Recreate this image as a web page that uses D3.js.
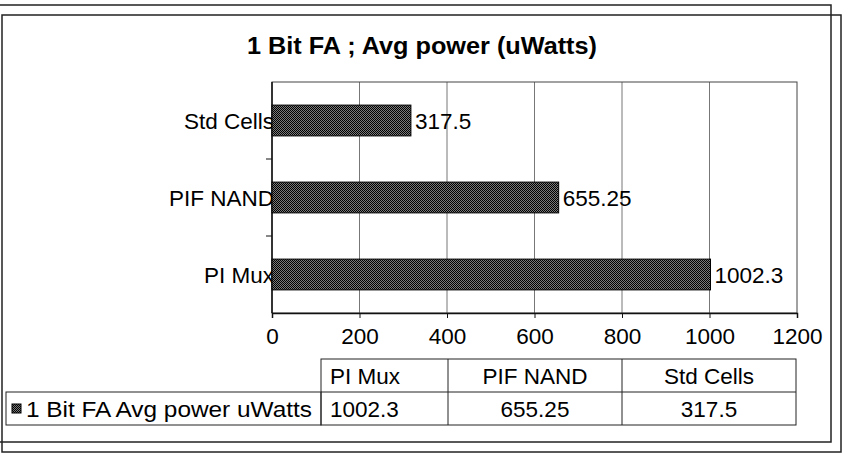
<!DOCTYPE html>
<html>
<head>
<meta charset="utf-8">
<script src="https://cdn.jsdelivr.net/npm/d3@7"></script>
<style>
  body { margin: 0; background: #fff; }
  text { font-family: "Liberation Sans", Arial, sans-serif; fill: #000; }
</style>
</head>
<body>
<div class="chart"></div>
<script>
// 1 bit FA, average power
var categories = ['PI Mux', 'PIF NAND', 'Std Cells'];
var values = [1002.3, 655.25, 317.5];
var valueLabels = ['1002.3', '655.25', '317.5'];
var xTicks = [0, 200, 400, 600, 800, 1000, 1200];
var seriesName = '1 Bit FA Avg power uWatts';
var title = '1 Bit FA ; Avg power (uWatts)';

var width = 842;
var height = 460;
var plot = {left: 272, right: 797, top: 82, bottom: 313};
var fs = '22.5px';

var data = categories.map((c, i) => ({name: c, value: values[i], label: valueLabels[i]}));

var svg = d3.select('.chart').append('svg')
  .attr('width', width)
  .attr('height', height);

// dithered fill like the old excel print
var defs = svg.append('defs');
var pat = defs.append('pattern')
  .attr('id', 'dots')
  .attr('patternUnits', 'userSpaceOnUse')
  .attr('width', 2).attr('height', 2);
pat.append('rect').attr('width', 2).attr('height', 2).attr('fill', '#7a7a7a');
pat.append('rect').attr('width', 1).attr('height', 1).attr('fill', '#000');
pat.append('rect').attr('x', 1).attr('y', 1).attr('width', 1).attr('height', 1).attr('fill', '#000');

// the two frames
svg.append('rect')
  .attr('x', -1).attr('y', 5).attr('width', 832).attr('height', 437)
  .attr('fill', 'none').attr('stroke', '#222').attr('stroke-width', 1.5);
svg.append('rect')
  .attr('x', 2).attr('y', 15).attr('width', 839).attr('height', 437)
  .attr('fill', 'none').attr('stroke', '#222').attr('stroke-width', 1.5);

svg.append('text')
  .attr('x', 422).attr('y', 54)
  .attr('text-anchor', 'middle')
  .attr('textLength', 350)
  .attr('lengthAdjust', 'spacingAndGlyphs')
  .style('font-size', '23px')
  .style('font-weight', 'bold')
  .text(title);

var x = d3.scaleLinear().domain([0, 1200]).range([plot.left, plot.right]);
var y = d3.scaleBand()
  .domain(categories.slice().reverse())
  .range([plot.top, plot.bottom])
  .paddingInner(0.6)
  .paddingOuter(0.3);

// gridlines
svg.append('g')
  .selectAll('line')
  .data(xTicks.slice(1, -1))
  .enter().append('line')
  .attr('x1', d => x(d)).attr('x2', d => x(d))
  .attr('y1', plot.top).attr('y2', plot.bottom)
  .attr('stroke', '#777').attr('stroke-width', 1);

// plot border
svg.append('rect')
  .attr('x', plot.left).attr('y', plot.top)
  .attr('width', plot.right - plot.left).attr('height', plot.bottom - plot.top)
  .attr('fill', 'none').attr('stroke', '#444').attr('stroke-width', 1);

// x axis
var xAxis = svg.append('g')
  .attr('transform', `translate(0,${plot.bottom})`)
  .call(d3.axisBottom(x).tickValues(xTicks).tickSize(5).tickPadding(10).tickFormat(d3.format('d')));
xAxis.attr('font-family', null).attr('font-size', null);
xAxis.select('.domain').attr('stroke', '#111').attr('stroke-width', 1.5);
xAxis.selectAll('.tick line').attr('stroke', '#111');
xAxis.selectAll('text')
  .style('font-size', fs)
  .attr('fill', '#000');

// y axis: ticks between categories
var yEdges = [plot.top + y.step(), plot.top + 2 * y.step()];
svg.append('line')
  .attr('x1', plot.left).attr('x2', plot.left)
  .attr('y1', plot.top).attr('y2', plot.bottom)
  .attr('stroke', '#111').attr('stroke-width', 1.5);
svg.append('g').selectAll('line')
  .data(yEdges)
  .enter().append('line')
  .attr('x1', plot.left - 6).attr('x2', plot.left)
  .attr('y1', d => d).attr('y2', d => d)
  .attr('stroke', '#111');

svg.append('g').selectAll('text')
  .data(categories)
  .enter().append('text')
  .attr('x', plot.left + 2)
  .attr('y', d => y(d) + y.bandwidth() / 2 + 1)
  .attr('dy', '0.35em')
  .attr('text-anchor', 'end')
  .style('font-size', fs)
  .text(d => d);

// bars
svg.append('g').selectAll('rect')
  .data(data)
  .enter().append('rect')
  .attr('x', x(0))
  .attr('y', d => y(d.name))
  .attr('width', d => x(d.value) - x(0))
  .attr('height', y.bandwidth())
  .attr('fill', 'url(#dots)')
  .attr('stroke', '#000')
  .attr('stroke-width', 1);

svg.append('g').selectAll('text')
  .data(data)
  .enter().append('text')
  .attr('x', d => x(d.value) + 4)
  .attr('y', d => y(d.name) + y.bandwidth() / 2 + 1)
  .attr('dy', '0.35em')
  .style('font-size', fs)
  .text(d => d.label);

// data table under the chart
var cols = [321, 448, 622, 796];
var rows = [359, 392, 425];
var tbl = svg.append('g').attr('stroke', '#222').attr('stroke-width', 1);
tbl.append('rect')
  .attr('x', cols[0]).attr('y', rows[0])
  .attr('width', cols[3] - cols[0]).attr('height', rows[2] - rows[0])
  .attr('fill', 'none');
tbl.append('rect')
  .attr('x', 6).attr('y', rows[1])
  .attr('width', cols[0] - 6).attr('height', rows[2] - rows[1])
  .attr('fill', 'none');
tbl.append('line')
  .attr('x1', cols[0]).attr('x2', cols[3])
  .attr('y1', rows[1]).attr('y2', rows[1]);
tbl.selectAll('line.col')
  .data([cols[1], cols[2]])
  .enter().append('line')
  .attr('class', 'col')
  .attr('x1', d => d).attr('x2', d => d)
  .attr('y1', rows[0]).attr('y2', rows[2]);

var colPos = (i) => i === 0 ? cols[0] + 9 : (cols[i] + cols[i + 1]) / 2;
var colAnchor = (i) => i === 0 ? 'start' : 'middle';

svg.append('g').selectAll('text')
  .data(categories)
  .enter().append('text')
  .attr('x', (d, i) => colPos(i))
  .attr('y', (rows[0] + rows[1]) / 2 + 1)
  .attr('dy', '0.35em')
  .attr('text-anchor', (d, i) => colAnchor(i))
  .style('font-size', fs)
  .text(d => d);

svg.append('g').selectAll('text')
  .data(data)
  .enter().append('text')
  .attr('x', (d, i) => colPos(i))
  .attr('y', (rows[1] + rows[2]) / 2 + 1)
  .attr('dy', '0.35em')
  .attr('text-anchor', (d, i) => colAnchor(i))
  .style('font-size', fs)
  .text(d => d.label);

// legend key
svg.append('rect')
  .attr('x', 12).attr('y', 404)
  .attr('width', 9).attr('height', 9)
  .attr('fill', 'url(#dots)').attr('stroke', '#000');
svg.append('text')
  .attr('x', 26)
  .attr('y', (rows[1] + rows[2]) / 2 + 1)
  .attr('dy', '0.35em')
  .attr('textLength', 286)
  .attr('lengthAdjust', 'spacingAndGlyphs')
  .style('font-size', fs)
  .text(seriesName);
</script>
</body>
</html>
